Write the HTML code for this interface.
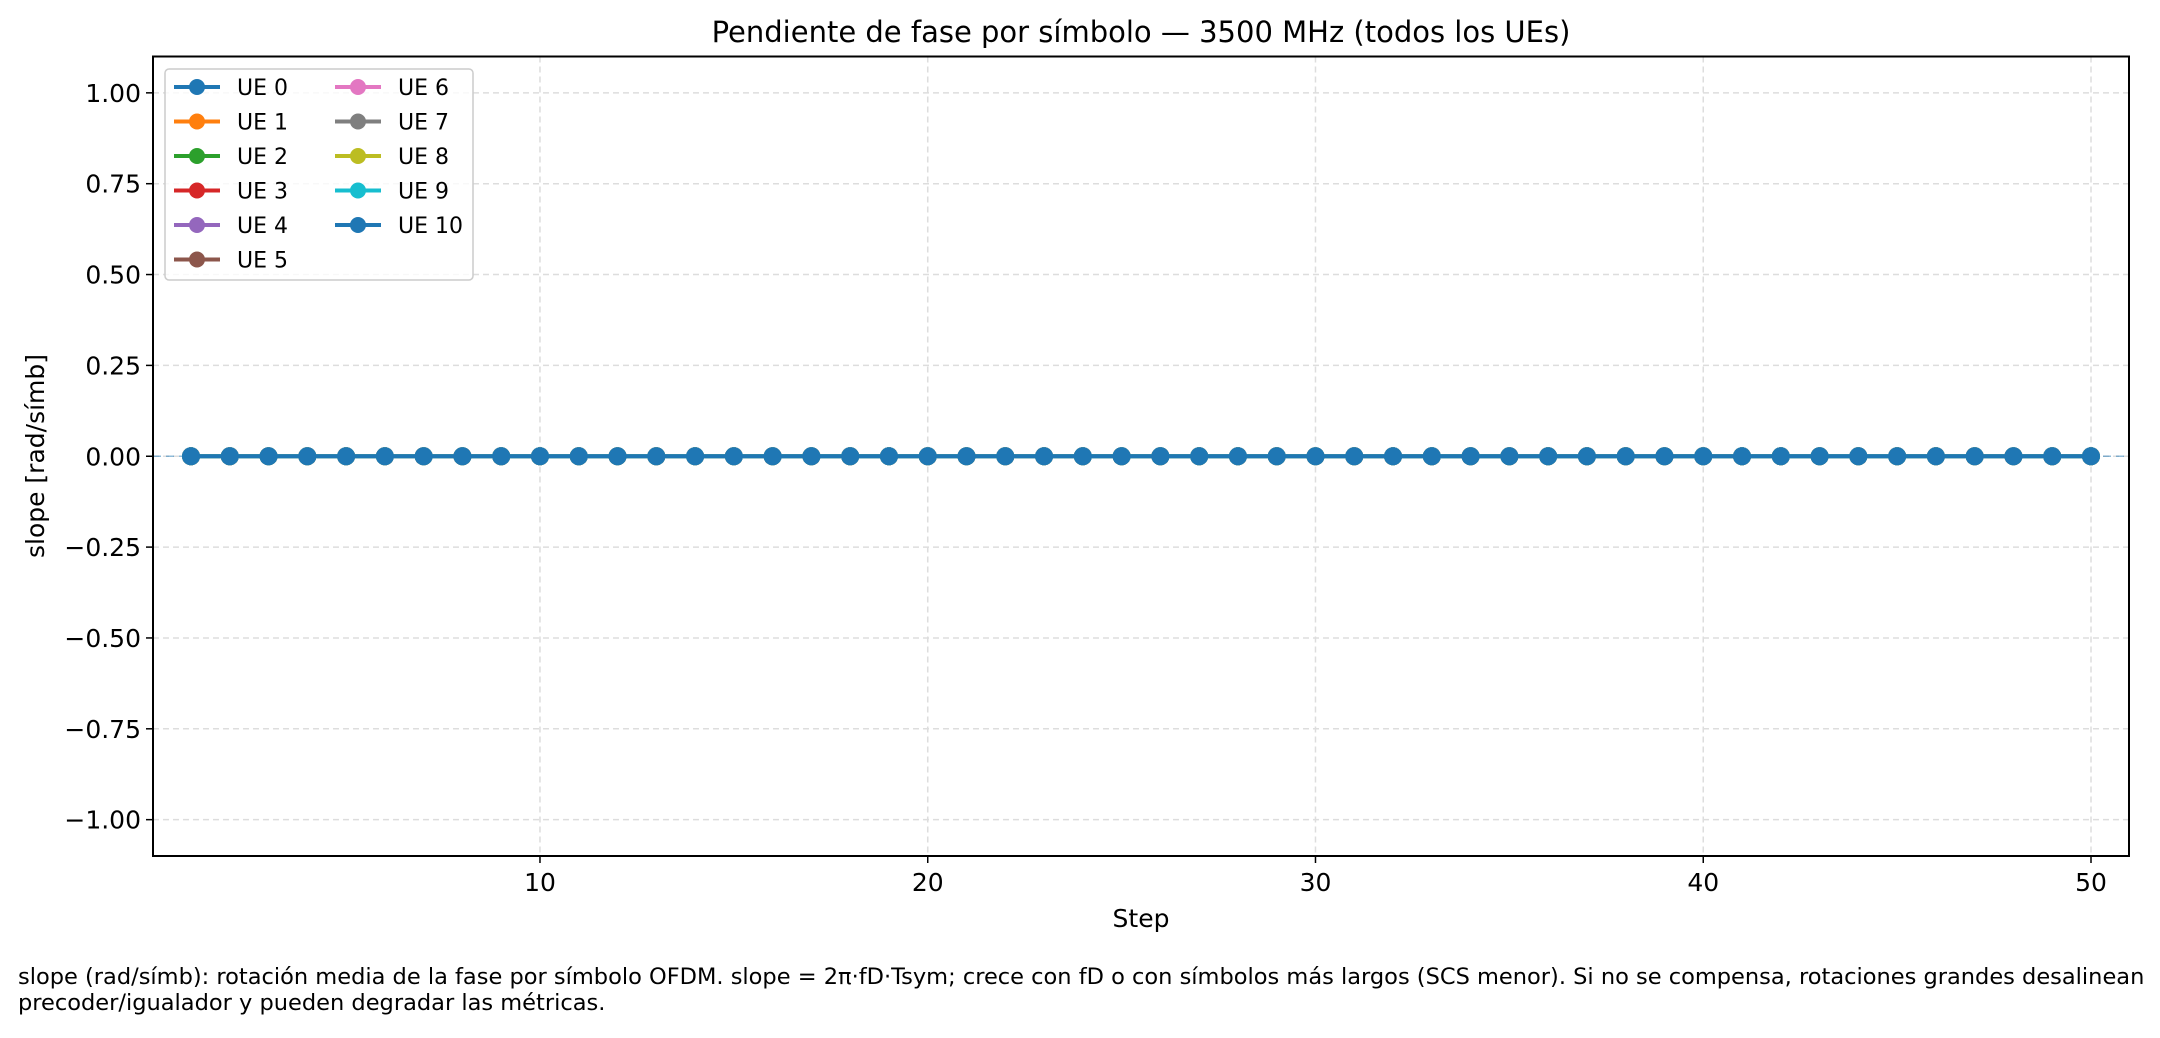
<!DOCTYPE html>
<html><head><meta charset="utf-8"><style>
body{margin:0;background:#fff;}
svg text{font-family:"DejaVu Sans","Liberation Sans",sans-serif;fill:#000;}
</style></head><body>
<svg id="chart" width="2160" height="1033" xmlns="http://www.w3.org/2000/svg">
<rect width="2160" height="1033" fill="#fff"/>
<g id="grid"></g>
<g id="series"></g>
<rect x="153" y="56.5" width="1976" height="799.5" fill="none" stroke="#000" stroke-width="2"/>
<g id="axes"></g>
<text x="1141" y="42" font-size="29" text-anchor="middle">Pendiente de fase por símbolo — 3500 MHz (todos los UEs)</text>
<text x="1141" y="927" font-size="25" text-anchor="middle">Step</text>
<text transform="translate(44,456) rotate(-90)" font-size="25" text-anchor="middle">slope [rad/símb]</text>
<text x="18" y="984" font-size="22.5">slope (rad/símb): rotación media de la fase por símbolo OFDM. slope = 2π·fD·Tsym; crece con fD o con símbolos más largos (SCS menor). Si no se compensa, rotaciones grandes desalinean</text>
<text x="18" y="1010" font-size="22.5">precoder/igualador y pueden degradar las métricas.</text>
<g id="legend"></g>
</svg>
<script>
const steps = Array.from({length:50},(_,i)=>i+1);
const ueNames = ["UE 0","UE 1","UE 2","UE 3","UE 4","UE 5","UE 6","UE 7","UE 8","UE 9","UE 10"];
const ueColors = ["#1f77b4","#ff7f0e","#2ca02c","#d62728","#9467bd","#8c564b","#e377c2","#7f7f7f","#bcbd22","#17becf","#1f77b4"];
const slopeValues = ueNames.map(()=>steps.map(()=>0));
const xTicks = [10,20,30,40,50];
const yTicks = [-1.0,-0.75,-0.5,-0.25,0,0.25,0.5,0.75,1.0];
const yTickLabels = ["−1.00","−0.75","−0.50","−0.25","0.00","0.25","0.50","0.75","1.00"];

const NS="http://www.w3.org/2000/svg";
const L=153,R=2129,T=56.5,B=856;
const xMin=0.02,xMax=50.98,yMin=-1.1,yMax=1.1;
const xs=v=>L+(v-xMin)/(xMax-xMin)*(R-L);
const ys=v=>B-(v-yMin)/(yMax-yMin)*(B-T);
function mk(tag,attrs,parent){const e=document.createElementNS(NS,tag);for(const k in attrs)e.setAttribute(k,attrs[k]);parent.appendChild(e);return e;}
const grid=document.getElementById('grid'),axes=document.getElementById('axes'),ser=document.getElementById('series'),leg=document.getElementById('legend');
xTicks.forEach(t=>{
  const x=xs(t);
  const g=mk('line',{x1:x,x2:x,y1:T,y2:B,stroke:'#ddd','stroke-width':1.5,'stroke-dasharray':'6,4'},grid);
  
  
  const tk=mk('line',{x1:x,x2:x,y1:B,y2:B+7,stroke:'#000','stroke-width':1.5},axes);
  
  
  const lb=mk('text',{x:x,y:B+35,'font-size':25,'text-anchor':'middle'},axes);lb.textContent=t;
  
  
});
yTicks.forEach((t,i)=>{
  const y=ys(t);
  const g=mk('line',{x1:L,x2:R,y1:y,y2:y,stroke:'#ddd','stroke-width':1.5,'stroke-dasharray':'6,4'},grid);
  
  
  const tk=mk('line',{x1:L-7,x2:L,y1:y,y2:y,stroke:'#000','stroke-width':1.5},axes);
  
  
  const lb=mk('text',{x:L-12,y:y+9,'font-size':25,'text-anchor':'end'},axes);lb.textContent=yTickLabels[i];
  
  
});
const zl=mk('line',{x1:L,x2:R,y1:ys(0),y2:ys(0),stroke:'#1f77b4','stroke-opacity':0.5,'stroke-width':1.5,'stroke-dasharray':'8,5'},grid);


slopeValues.forEach((vals,u)=>{
  const g=mk('g',{},ser);
  
  
  const pts=steps.map((s,i)=>xs(s)+','+ys(vals[i])).join(' ');
  mk('polyline',{points:pts,fill:'none',stroke:ueColors[u],'stroke-width':4},g);
  steps.forEach((s,i)=>{
    const c=mk('circle',{cx:xs(s),cy:ys(vals[i]),r:9,fill:ueColors[u]},g);
    
    
  });
});
mk('rect',{x:165,y:69,width:308,height:211,rx:4,fill:'#fff','fill-opacity':0.8,stroke:'#ccc','stroke-width':1.5},leg);
ueNames.forEach((n,i)=>{
  const col=i<6?0:1,row=i<6?i:i-6;
  const x0=col?335:174,y=87+row*34.5;
  const e=mk('g',{},leg);
  
  
  mk('line',{x1:x0,x2:x0+46,y1:y,y2:y,stroke:ueColors[i],'stroke-width':4},e);
  mk('circle',{cx:x0+23,cy:y,r:8,fill:ueColors[i]},e);
  const t=mk('text',{x:x0+63,y:y+8,'font-size':22},e);t.textContent=n;
});
</script>
</body></html>
